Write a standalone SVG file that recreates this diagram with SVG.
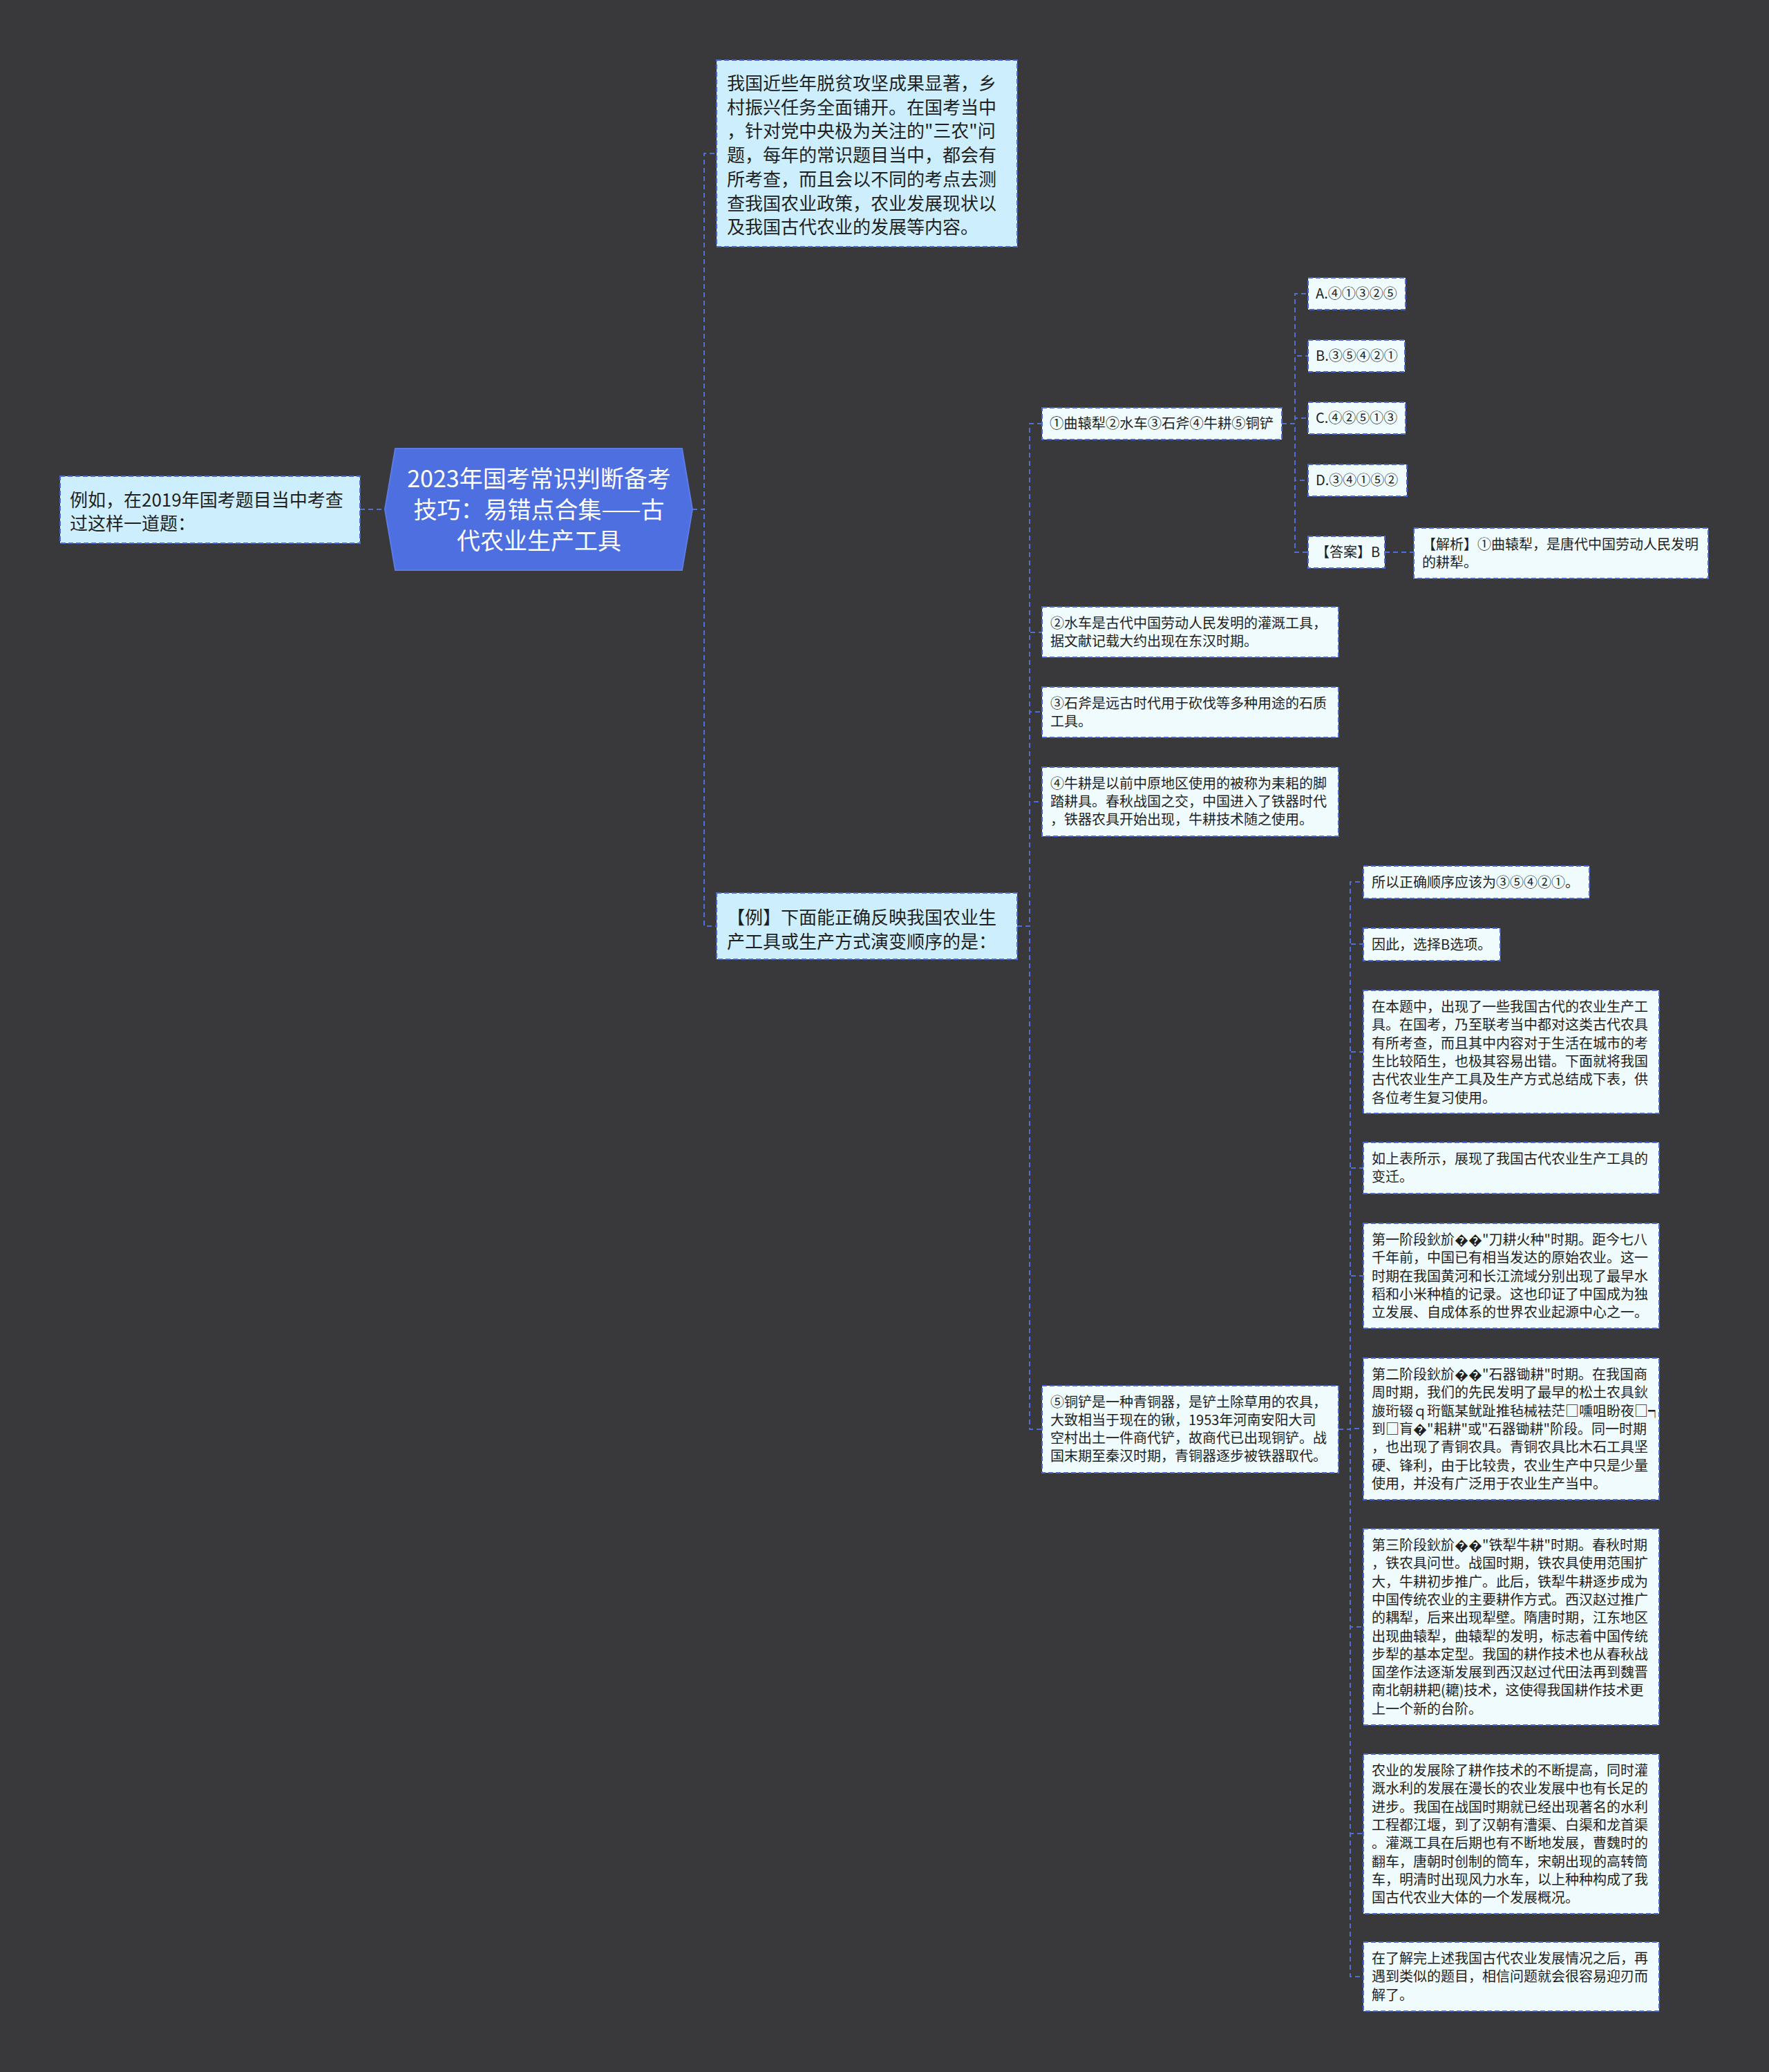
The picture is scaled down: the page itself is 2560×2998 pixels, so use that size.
<svg xmlns="http://www.w3.org/2000/svg" width="2560" height="2998" viewBox="0 0 2560 2998">
<style>
text{font-family:"Noto Sans CJK SC","Noto Sans",sans-serif;fill:#1f1f1f}
.l2{fill:#cdeefc;stroke:#4a68d0;stroke-width:2;stroke-dasharray:7,4}
.l3{fill:#effbfd;stroke:#4a68d0;stroke-width:2;stroke-dasharray:7,4}
.f26{font-size:26px}
.f20{font-size:20px}
.root{font-size:34px;fill:#ffffff;text-anchor:middle}
#connectors path{fill:none;stroke:#4f6fd8;stroke-width:2;stroke-dasharray:7,5}
</style>
<rect x="0" y="0" width="2560" height="2998" fill="#39383a"/>
<g id="connectors">
<path d="M521,737 H557"/>
<path d="M1002,737 H1019 V222 H1037"/>
<path d="M1002,737 H1019 V1340 H1037"/>
<path d="M1472,1340 H1490 V613 H1508"/>
<path d="M1472,1340 H1490 V915 H1508"/>
<path d="M1472,1340 H1490 V1030 H1508"/>
<path d="M1472,1340 H1490 V1160 H1508"/>
<path d="M1472,1340 H1490 V2068 H1508"/>
<path d="M1855,613 H1874 V425 H1893"/>
<path d="M1855,613 H1874 V515 H1893"/>
<path d="M1855,613 H1874 V605 H1893"/>
<path d="M1855,613 H1874 V695 H1893"/>
<path d="M1855,613 H1874 V799 H1893"/>
<path d="M2004,799 H2046"/>
<path d="M1937,2068 H1954 V1276 H1973"/>
<path d="M1937,2068 H1954 V1366 H1973"/>
<path d="M1937,2068 H1954 V1522 H1973"/>
<path d="M1937,2068 H1954 V1690 H1973"/>
<path d="M1937,2068 H1954 V1846 H1973"/>
<path d="M1937,2068 H1954 V2067 H1973"/>
<path d="M1937,2068 H1954 V2354 H1973"/>
<path d="M1937,2068 H1954 V2653 H1973"/>
<path d="M1937,2068 H1954 V2860 H1973"/>
</g>
<g id="root">
<polygon points="557,737 572,649 987,649 1002,737 987,825 572,825" fill="#4d6fe0" stroke="#5b7be6" stroke-width="2"/>
<text class="root" x="780" y="705">2023年国考常识判断备考</text>
<text class="root" x="780" y="750">技巧：易错点合集——古</text>
<text class="root" x="780" y="795">代农业生产工具</text>
</g>
<g id="n-left">
<rect class="l2" x="87" y="689" width="434" height="97"/>
<text class="f26" x="101" y="733">例如，在2019年国考题目当中考查</text>
<text class="f26" x="101" y="767">过这样一道题：</text>
</g>
<g id="n-top">
<rect class="l2" x="1037" y="87" width="435" height="270"/>
<text class="f26" x="1052" y="130">我国近些年脱贫攻坚成果显著，乡</text>
<text class="f26" x="1052" y="164.7">村振兴任务全面铺开。在国考当中</text>
<text class="f26" x="1052" y="199.4">，针对党中央极为关注的"三农"问</text>
<text class="f26" x="1052" y="234.1">题，每年的常识题目当中，都会有</text>
<text class="f26" x="1052" y="268.8">所考查，而且会以不同的考点去测</text>
<text class="f26" x="1052" y="303.5">查我国农业政策，农业发展现状以</text>
<text class="f26" x="1052" y="338.2">及我国古代农业的发展等内容。</text>
</g>
<g id="n-example">
<rect class="l2" x="1037" y="1292" width="435" height="96"/>
<text class="f26" x="1052" y="1337">【例】下面能正确反映我国农业生</text>
<text class="f26" x="1052" y="1372">产工具或生产方式演变顺序的是：</text>
</g>
<g id="n-question">
<rect class="l3" x="1508" y="590" width="347" height="46"/>
<text x="1519" y="620" style="font-size:20.5px" textLength="324" lengthAdjust="spacingAndGlyphs">①曲辕犁②水车③石斧④牛耕⑤铜铲</text>
</g>
<g id="n-a">
<rect class="l3" x="1893" y="402" width="141" height="46"/>
<text class="f20" x="1904" y="432">A.④①③②⑤</text>
</g>
<g id="n-b">
<rect class="l3" x="1893" y="492" width="140" height="46"/>
<text class="f20" x="1904" y="522">B.③⑤④②①</text>
</g>
<g id="n-c">
<rect class="l3" x="1893" y="582" width="141" height="46"/>
<text class="f20" x="1904" y="612">C.④②⑤①③</text>
</g>
<g id="n-d">
<rect class="l3" x="1893" y="672" width="143" height="46"/>
<text class="f20" x="1904" y="702">D.③④①⑤②</text>
</g>
<g id="n-answer">
<rect class="l3" x="1893" y="776" width="111" height="46"/>
<text class="f20" x="1904" y="806">【答案】B</text>
</g>
<g id="n-analysis">
<rect class="l3" x="2046" y="764" width="426" height="73"/>
<text class="f20" x="2058" y="795">【解析】①曲辕犁，是唐代中国劳动人民发明</text>
<text class="f20" x="2058" y="821">的耕犁。</text>
</g>
<g id="n-2">
<rect class="l3" x="1508" y="878" width="429" height="73"/>
<text class="f20" x="1520" y="909">②水车是古代中国劳动人民发明的灌溉工具，</text>
<text class="f20" x="1520" y="935">据文献记载大约出现在东汉时期。</text>
</g>
<g id="n-3">
<rect class="l3" x="1508" y="994" width="429" height="73"/>
<text class="f20" x="1520" y="1025">③石斧是远古时代用于砍伐等多种用途的石质</text>
<text class="f20" x="1520" y="1051">工具。</text>
</g>
<g id="n-4">
<rect class="l3" x="1508" y="1110" width="429" height="100"/>
<text class="f20" x="1520" y="1141">④牛耕是以前中原地区使用的被称为耒耜的脚</text>
<text class="f20" x="1520" y="1167">踏耕具。春秋战国之交，中国进入了铁器时代</text>
<text class="f20" x="1520" y="1193">，铁器农具开始出现，牛耕技术随之使用。</text>
</g>
<g id="n-5">
<rect class="l3" x="1508" y="2005" width="429" height="126"/>
<text class="f20" x="1520" y="2036">⑤铜铲是一种青铜器，是铲土除草用的农具，</text>
<text class="f20" x="1520" y="2062">大致相当于现在的锹，1953年河南安阳大司</text>
<text class="f20" x="1520" y="2088">空村出土一件商代铲，故商代已出现铜铲。战</text>
<text class="f20" x="1520" y="2114">国末期至秦汉时期，青铜器逐步被铁器取代。</text>
</g>
<g id="n-r1">
<rect class="l3" x="1973" y="1253" width="327" height="47"/>
<text class="f20" x="1985" y="1284">所以正确顺序应该为③⑤④②①。</text>
</g>
<g id="n-r2">
<rect class="l3" x="1973" y="1343" width="198" height="47"/>
<text class="f20" x="1985" y="1374">因此，选择B选项。</text>
</g>
<g id="n-r3">
<rect class="l3" x="1973" y="1433" width="428" height="178"/>
<text class="f20" x="1985" y="1464">在本题中，出现了一些我国古代的农业生产工</text>
<text class="f20" x="1985" y="1490.3">具。在国考，乃至联考当中都对这类古代农具</text>
<text class="f20" x="1985" y="1516.6">有所考查，而且其中内容对于生活在城市的考</text>
<text class="f20" x="1985" y="1542.9">生比较陌生，也极其容易出错。下面就将我国</text>
<text class="f20" x="1985" y="1569.2">古代农业生产工具及生产方式总结成下表，供</text>
<text class="f20" x="1985" y="1595.5">各位考生复习使用。</text>
</g>
<g id="n-r4">
<rect class="l3" x="1973" y="1653" width="428" height="74"/>
<text class="f20" x="1985" y="1684">如上表所示，展现了我国古代农业生产工具的</text>
<text class="f20" x="1985" y="1710.3">变迁。</text>
</g>
<g id="n-r5">
<rect class="l3" x="1973" y="1770" width="428" height="152"/>
<text class="f20" x="1985" y="1801">第一阶段鈥斺��"刀耕火种"时期。距今七八</text>
<text class="f20" x="1985" y="1827.3">千年前，中国已有相当发达的原始农业。这一</text>
<text class="f20" x="1985" y="1853.6">时期在我国黄河和长江流域分别出现了最早水</text>
<text class="f20" x="1985" y="1879.9">稻和小米种植的记录。这也印证了中国成为独</text>
<text class="f20" x="1985" y="1906.2">立发展、自成体系的世界农业起源中心之一。</text>
</g>
<g id="n-r6">
<rect class="l3" x="1973" y="1965" width="428" height="205"/>
<text class="f20" x="1985" y="1996">第二阶段鈥斺��"石器锄耕"时期。在我国商</text>
<text class="f20" x="1985" y="2022.3">周时期，我们的先民发明了最早的松土农具鈥</text>
<text class="f20" x="1985" y="2048.6">旇珩辍ｑ珩甑某鱿趾推毡械袪茫□嚑咀盼夜□┑</text>
<text class="f20" x="1985" y="2074.9">到□肓�"耜耕"或"石器锄耕"阶段。同一时期</text>
<text class="f20" x="1985" y="2101.2">，也出现了青铜农具。青铜农具比木石工具坚</text>
<text class="f20" x="1985" y="2127.5">硬、锋利，由于比较贵，农业生产中只是少量</text>
<text class="f20" x="1985" y="2153.8">使用，并没有广泛用于农业生产当中。</text>
</g>
<g id="n-r7">
<rect class="l3" x="1973" y="2212" width="428" height="284"/>
<text class="f20" x="1985" y="2243">第三阶段鈥斺��"铁犁牛耕"时期。春秋时期</text>
<text class="f20" x="1985" y="2269.3">，铁农具问世。战国时期，铁农具使用范围扩</text>
<text class="f20" x="1985" y="2295.6">大，牛耕初步推广。此后，铁犁牛耕逐步成为</text>
<text class="f20" x="1985" y="2321.9">中国传统农业的主要耕作方式。西汉赵过推广</text>
<text class="f20" x="1985" y="2348.2">的耦犁，后来出现犁壁。隋唐时期，江东地区</text>
<text class="f20" x="1985" y="2374.5">出现曲辕犁，曲辕犁的发明，标志着中国传统</text>
<text class="f20" x="1985" y="2400.8">步犁的基本定型。我国的耕作技术也从春秋战</text>
<text class="f20" x="1985" y="2427.1">国垄作法逐渐发展到西汉赵过代田法再到魏晋</text>
<text class="f20" x="1985" y="2453.4">南北朝耕耙(耱)技术，这使得我国耕作技术更</text>
<text class="f20" x="1985" y="2479.7">上一个新的台阶。</text>
</g>
<g id="n-r8">
<rect class="l3" x="1973" y="2538" width="428" height="231"/>
<text class="f20" x="1985" y="2569">农业的发展除了耕作技术的不断提高，同时灌</text>
<text class="f20" x="1985" y="2595.3">溉水利的发展在漫长的农业发展中也有长足的</text>
<text class="f20" x="1985" y="2621.6">进步。我国在战国时期就已经出现著名的水利</text>
<text class="f20" x="1985" y="2647.9">工程都江堰，到了汉朝有漕渠、白渠和龙首渠</text>
<text class="f20" x="1985" y="2674.2">。灌溉工具在后期也有不断地发展，曹魏时的</text>
<text class="f20" x="1985" y="2700.5">翻车，唐朝时创制的筒车，宋朝出现的高转筒</text>
<text class="f20" x="1985" y="2726.8">车，明清时出现风力水车，以上种种构成了我</text>
<text class="f20" x="1985" y="2753.1">国古代农业大体的一个发展概况。</text>
</g>
<g id="n-r9">
<rect class="l3" x="1973" y="2810" width="428" height="100"/>
<text class="f20" x="1985" y="2841">在了解完上述我国古代农业发展情况之后，再</text>
<text class="f20" x="1985" y="2867.3">遇到类似的题目，相信问题就会很容易迎刃而</text>
<text class="f20" x="1985" y="2893.6">解了。</text>
</g>
</svg>
